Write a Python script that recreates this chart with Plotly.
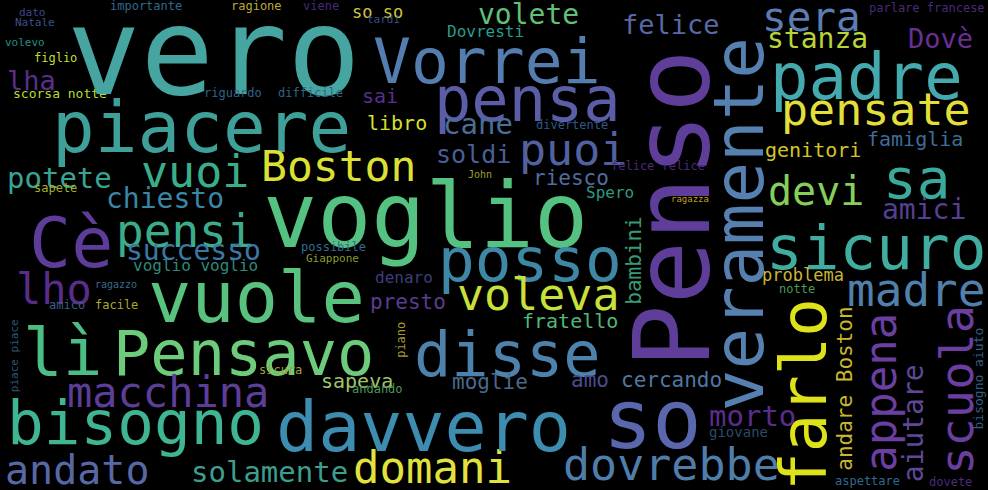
import plotly.graph_objects as go

# ---- data: words and their weights (rendered font size, px) ----
words = [
    "dato", "Natale", "volevo", "figlio", "lha", "scorsa notte", "importante", "ragione", "viene", "so so",
    "tardi", "Dovresti", "vero", "Vorrei", "volete", "felice", "sera", "parlare francese", "stanza", "Dovè",
    "padre", "pensa", "piacere", "sai", "libro", "cane", "riguardo", "difficile", "soldi", "puoi",
    "divertente", "pensate", "famiglia", "genitori", "Boston", "vuoi", "potete", "sapete", "chiesto", "voglio",
    "Cè", "pensi", "successo", "voglio voglio", "possibile", "Giappone", "John", "riesco", "Spero", "felice felice",
    "ragazza", "devi", "sa", "amici", "sicuro", "posso", "lho", "ragazzo", "amico", "facile",
    "vuole", "denaro", "presto", "voleva", "problema", "notte", "madre", "lì", "Pensavo", "sicura",
    "sapeva", "andando", "macchina", "bisogno", "andato", "solamente", "domani", "davvero", "disse", "moglie",
    "fratello", "amo", "cercando", "so", "morto", "giovane", "dovrebbe", "aspettare", "dovete",
    "Penso", "veramente", "bambini", "farlo", "andare Boston", "appena", "aiutare", "scuola", "bisogno aiuto",
    "piace piace", "piano",
]
weights = [
    11, 11, 11, 12, 27, 13, 12, 12, 12, 17,
    11, 16, 122, 63, 28, 27, 41, 12, 28, 27,
    64, 62, 71, 20, 20, 29, 12, 12, 25, 45,
    12, 45, 20, 20, 43, 45, 29, 12, 28, 90,
    70, 46, 28, 16, 12, 11, 10, 21, 16, 12,
    9, 40, 56, 28, 61, 61, 42, 10, 12, 12,
    72, 16, 21, 45, 17, 12, 46, 66, 62, 12,
    20, 12, 42, 61, 40, 29, 44, 70, 62, 21,
    20, 21, 21, 82, 29, 14, 45, 12, 12,
    106, 69, 21, 64, 21, 44, 28, 47, 13,
    11, 12,
]

# ---- layout of the cloud (pixel space): x, y, rotation ----
# horizontal words: (centre x, baseline y, 0); vertical words: (baseline x, centre y, -90)
placement = [
    (32, 16, 0), (35, 26, 0), (25, 46, 0), (55, 61, 0), (31, 88, 0), (60, 97, 0), (146, 9, 0), (256, 9, 0), (321, 9, 0), (377, 17, 0),
    (383, 23, 0), (485, 36, 0), (214, 87, 0), (487, 80, 0), (528, 23, 0), (671, 32, 0), (811, 29, 0), (927, 11, 0), (817, 47, 0), (940, 46, 0),
    (866, 96, 0), (527, 117, 0), (201, 148, 0), (380, 102, 0), (397, 129, 0), (478, 132, 0), (233, 96, 0), (310, 96, 0), (473, 162, 0), (573, 163, 0),
    (572, 128, 0), (876, 123, 0), (915, 145, 0), (813, 156, 0), (338, 178, 0), (195, 185, 0), (59, 186, 0), (55, 191, 0), (165, 207, 0), (425, 242, 0),
    (71, 263, 0), (185, 244, 0), (193, 259, 0), (195, 270, 0), (333, 250, 0), (332, 262, 0), (480, 177, 0), (571, 184, 0), (610, 197, 0), (658, 169, 0),
    (690, 202, 0), (816, 203, 0), (916, 195, 0), (924, 218, 0), (876, 265, 0), (530, 277, 0), (54, 302, 0), (116, 287, 0), (67, 308, 0), (116, 308, 0),
    (256, 318, 0), (404, 282, 0), (408, 308, 0), (538, 308, 0), (803, 280, 0), (797, 292, 0), (916, 303, 0), (62, 372, 0), (243, 371, 0), (280, 373, 0),
    (357, 387, 0), (377, 392, 0), (168, 405, 0), (135, 440, 0), (77, 482, 0), (269, 480, 0), (432, 480, 0), (423, 447, 0), (507, 372, 0), (490, 388, 0),
    (570, 327, 0), (590, 386, 0), (671, 386, 0), (652, 443, 0), (752, 424, 0), (738, 436, 0), (671, 478, 0), (867, 484, 0), (950, 485, 0),
    (709, 209, -90), (763, 224, -90), (641, 260, -90), (826, 394, -90), (852, 389, -90), (895, 392, -90), (923, 423, -90), (972, 390, -90), (982, 379, -90),
    (18, 356, -90), (405, 340, -90),
]
colors = [
    "#3e4a89", "#3b528b", "#21918c", "#c2df23", "#5b2d8e", "#b5de2b", "#31688e", "#bda93a", "#482878", "#cfc437",
    "#3b528b", "#2a9d8f", "#46a5a0", "#557db0", "#60c078", "#5a69a5", "#5a7db4", "#4a2a78", "#b8d43a", "#6a2f96",
    "#45aaae", "#5b5ea6", "#3fa09a", "#5c2d8a", "#d7e02a", "#4a6e98", "#2e6488", "#2e6488", "#4a5f95", "#5262a0",
    "#2e5a8a", "#e2df3a", "#3f6d98", "#d5c425", "#dce034", "#3aae8a", "#38a493", "#a8b02a", "#3a87a5", "#55c282",
    "#5e3c99", "#3cad8c", "#3b78a5", "#2b8a7a", "#2f6d90", "#8a9a2a", "#a0a030", "#4d6e9e", "#2f9a80", "#4a2a7a",
    "#c0a020", "#86cf5a", "#3aaa9c", "#563f92", "#40ada0", "#3e87a5", "#5a2d8a", "#3a6a8a", "#3f5f8a", "#b0a82a",
    "#58c27e", "#3b3f7d", "#5b3b93", "#c8e03a", "#c8b631", "#4a9a5a", "#5080ab", "#4cbd85", "#6dcb7c", "#a8a030",
    "#9fc46c", "#4a9a5a", "#5c3e99", "#3fb593", "#5868a5", "#3c9e8f", "#e2e23e", "#3d8db0", "#4d82ad", "#4a6a8a",
    "#4fb87a", "#4a4c8e", "#4f78a0", "#5a67ad", "#5a2d8a", "#2a4a6a", "#4f7eaa", "#2e6a90", "#4a2a7a",
    "#5f3e9a", "#5580b0", "#3a9a75", "#dde318", "#c9b72c", "#6b3fa0", "#5f4899", "#6b3fa0", "#2f5f8a",
    "#2a5a7a", "#a89a2a",
]

W, H = 988, 490
FONT = "DejaVu Sans Mono, Liberation Mono, monospace"
SHIFT_H = 0.29    # baseline -> centre of the text box, in em (horizontal words)
SHIFT_V = 0.346   # same for words rotated by -90 degrees

annotations = []
for w, fs, (px, py, rot), c in zip(words, weights, placement, colors):
    # anchor stays on the baseline (inside the axes); the offset is applied in pixels
    if rot == 0:
        xs, ys = 0, SHIFT_H * fs
    else:
        xs, ys = -SHIFT_V * fs, 0
    annotations.append(dict(
        x=px, y=py, xref="x", yref="y", text=w, showarrow=False,
        xanchor="center", yanchor="middle", textangle=rot,
        xshift=xs, yshift=ys,
        font=dict(family=FONT, size=fs, color=c),
    ))

fig = go.Figure()
fig.add_trace(go.Scatter(x=[0, W], y=[0, H], mode="markers",
                         marker=dict(opacity=0), hoverinfo="skip", showlegend=False))
fig.update_layout(
    width=W, height=H,
    margin=dict(l=0, r=0, t=0, b=0),
    paper_bgcolor="#000000", plot_bgcolor="#000000",
    xaxis=dict(range=[0, W], visible=False, fixedrange=True),
    yaxis=dict(range=[H, 0], visible=False, fixedrange=True),
    annotations=annotations,
    showlegend=False,
)
fig.write_html(
    "out.html",
    config={"displayModeBar": False},
    post_script="document.body.style.margin='0';document.body.style.overflow='hidden';"
                "document.body.style.background='#000';",
)
